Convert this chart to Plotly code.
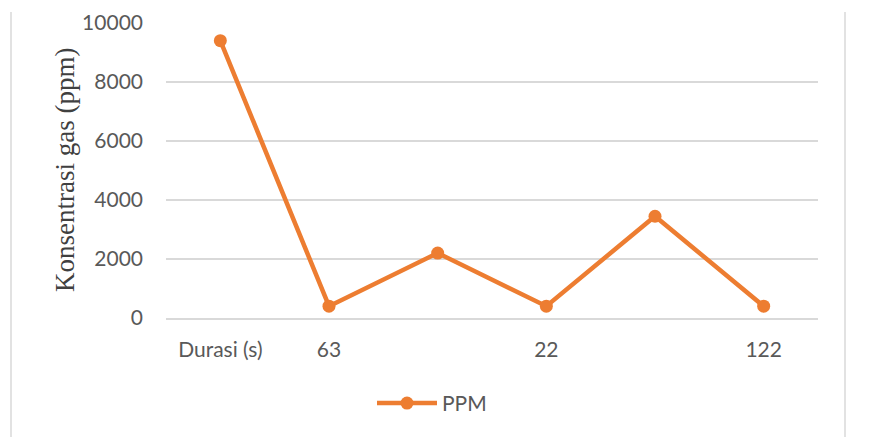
import plotly.graph_objects as go

x_labels = ["Durasi (s)", "63", "", "22", "", "122"]
ppm = [9400, 400, 2200, 400, 3450, 400]
y_ticks = [0, 2000, 4000, 6000, 8000, 10000]
y_tick_text = ["0", "2000", "4000", "6000", "8000", "10000"]
y_title = "Konsentrasi gas (ppm)"

W, H = 874, 437
OFF = 8  # page body margin
L, R, T, B = 166 - OFF, 56 + OFF, 23 - OFF, 119 + OFF

def px2paper_x(px):
    return (px - OFF - L) / (W - L - R)

def px2paper_y(py):
    return (H - B - (py - OFF)) / (H - T - B)

fig = go.Figure()
fig.add_trace(go.Scatter(
    x=list(range(len(ppm))), y=ppm, mode="lines+markers", name="PPM",
    line=dict(color="#ED7D31", width=4.5),
    marker=dict(color="#ED7D31", size=13),
))

tick_font = dict(family="Lato, Open Sans, sans-serif", size=21, color="#595959")
fig.update_layout(
    width=W, height=H, margin=dict(l=L, r=R, t=T, b=B, autoexpand=False),
    paper_bgcolor="white", plot_bgcolor="white",
    showlegend=True,
    legend=dict(orientation="h", x=px2paper_x(372), xanchor="left", y=-0.22, yanchor="top",
                itemwidth=60,
                font=dict(family="Lato, Open Sans, sans-serif", size=21, color="#595959")),
    xaxis=dict(range=[-0.5, 5.5], tickvals=list(range(len(x_labels))), ticktext=x_labels,
               showgrid=False, zeroline=False, showline=True, linecolor="#D9D9D9", linewidth=1.5,
               tickfont=tick_font, ticks="", ticklabelstandoff=12, automargin=False),
    yaxis=dict(range=[0, 10000], tickvals=y_ticks, ticktext=y_tick_text, showgrid=True,
               gridcolor="#D9D9D9", gridwidth=1.5, automargin=False,
               zeroline=False, showline=False, tickfont=tick_font, ticks="", ticklabelstandoff=22),
)

fig.add_annotation(text=y_title, xref="paper", yref="paper",
                   x=px2paper_x(65), y=px2paper_y(170), xanchor="center", yanchor="middle",
                   textangle=-90, showarrow=False,
                   font=dict(family="Liberation Serif, Times New Roman, serif", size=27, color="#404040"))

for xp in (11, 845):
    fig.add_shape(type="line", xref="paper", yref="paper",
                  x0=px2paper_x(xp), x1=px2paper_x(xp), y0=px2paper_y(12), y1=px2paper_y(445),
                  line=dict(color="#D9D9D9", width=1.5))

fig.write_html("out.html")
